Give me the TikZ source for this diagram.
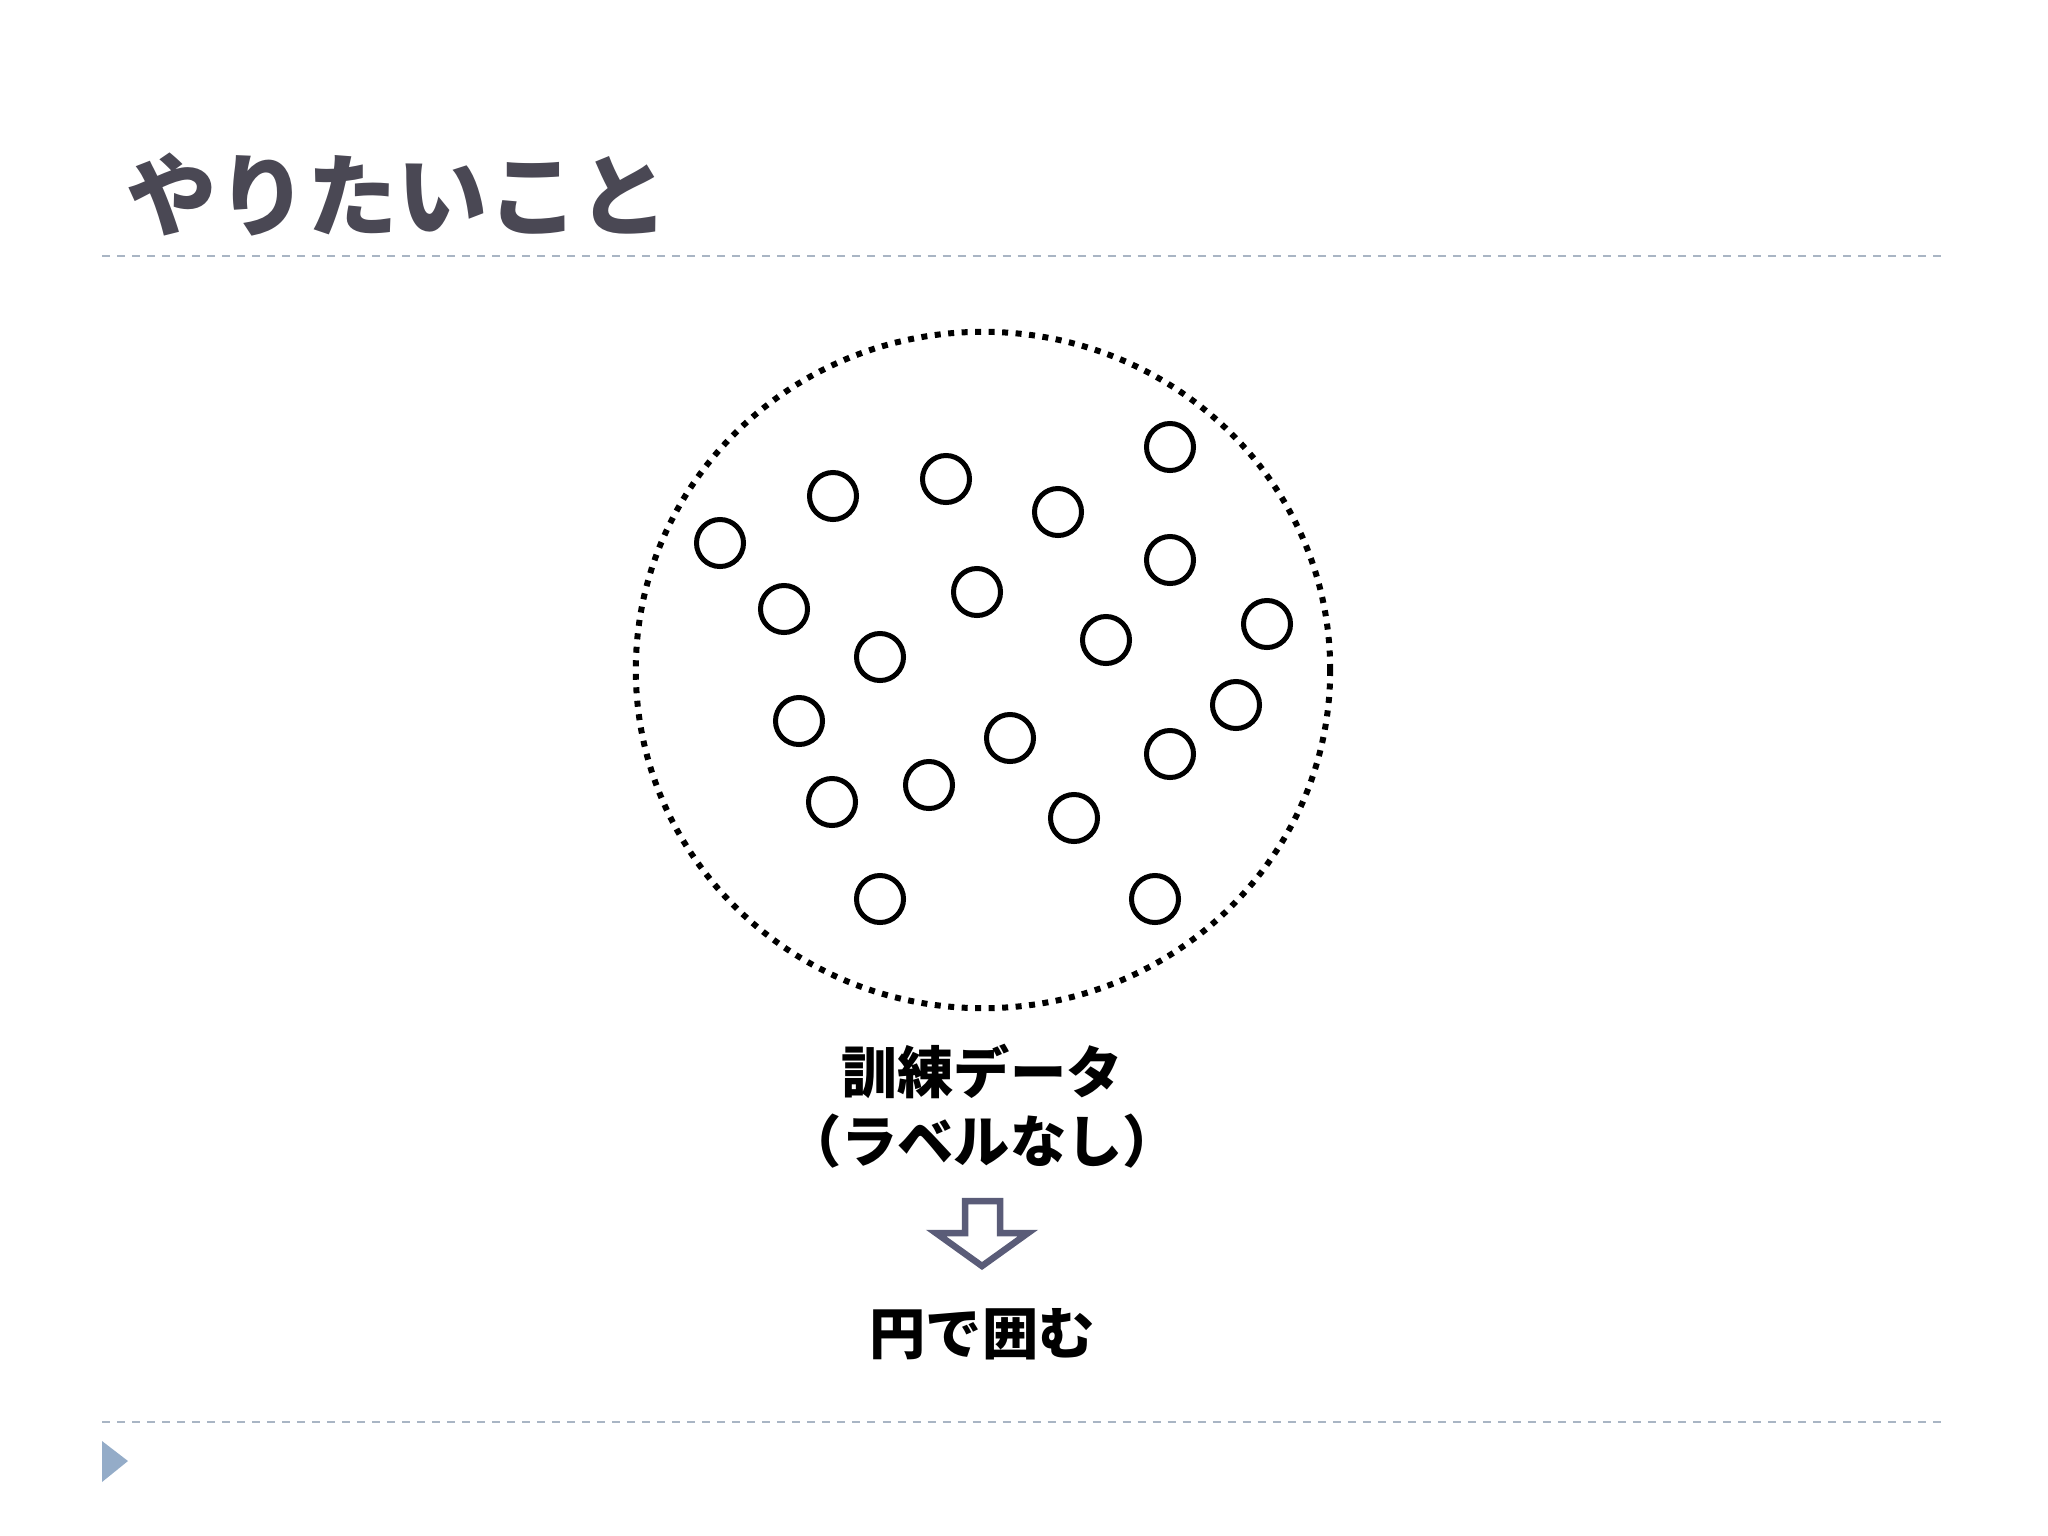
\documentclass[tikz,border=0pt]{standalone}
\usepackage{fontspec}
\newfontfamily\jpfont{Noto Sans CJK JP}
\usetikzlibrary{shapes.geometric,positioning}
\definecolor{titlegray}{HTML}{4A4854}
\definecolor{ruleblue}{HTML}{A9B5C4}
\definecolor{markblue}{HTML}{94ACC8}
\definecolor{arrowslate}{HTML}{5A5C78}
\tikzset{
  datapt/.style    = {draw, circle, line width=0.05cm, minimum size=0.47cm, inner sep=0pt},
  datacloud/.style = {draw, ellipse, line width=0.06cm, dash pattern=on 0.06cm off 0.075cm,
                      minimum width=6.94cm, minimum height=6.76cm, inner sep=0pt},
  sepline/.style   = {draw=ruleblue, line width=0.02cm, dash pattern=on 0.08cm off 0.07cm},
  caption/.style   = {font=\jpfont\bfseries\fontsize{16}{19.5}\selectfont, align=center, inner sep=0pt}
}

\begin{document}
\begin{tikzpicture}[x=0.01cm, y=-0.01cm]
\useasboundingbox (0,0) rectangle (2048,1536);

% title and rules
\node[anchor=west, inner sep=0pt, text=titlegray,
      font=\jpfont\bfseries\fontsize{25.7}{30}\selectfont] (title) at (126,195) {やりたいこと};
\coordinate (tl) at (102,256);
\coordinate (tr) at (1946,256);
\coordinate (bl) at (102,1422);
\coordinate (br) at (1946,1422);
\draw[sepline] (tl) -- (tr);
\draw[sepline] (bl) -- (br);
\fill[markblue] (102,1441) -- (128,1461) -- (102,1482) -- cycle;

% the dotted region
\node[datacloud] (cloud) at (983,670) {};

% unlabelled data points
\node[datapt] (p1) at (720,543) {};
\node[datapt] (p2) at (833,496) {};
\node[datapt] (p3) at (946,479) {};
\node[datapt] (p4) at (1058,512) {};
\node[datapt] (p5) at (1170,447) {};
\node[datapt] (p6) at (1170,560) {};
\node[datapt] (p7) at (784,609) {};
\node[datapt] (p8) at (977,592) {};
\node[datapt] (p9) at (880,657) {};
\node[datapt] (p10) at (1106,640) {};
\node[datapt] (p11) at (1267,624) {};
\node[datapt] (p12) at (799,721) {};
\node[datapt] (p13) at (1236,705) {};
\node[datapt] (p14) at (1010,738) {};
\node[datapt] (p15) at (1170,754) {};
\node[datapt] (p16) at (832,802) {};
\node[datapt] (p17) at (929,785) {};
\node[datapt] (p18) at (1074,818) {};
\node[datapt] (p19) at (880,899) {};
\node[datapt] (p20) at (1155,899) {};

% captions
\node[caption] (train) at (982,1106) {訓練データ\\（ラベルなし）};
\node[caption] (goal) at (982,1334) {円で囲む};

% block arrow
\draw[arrowslate, line width=0.065cm, fill=white]
  (965,1201) -- (1000,1201) -- (1000,1233) -- (1028,1233) -- (982,1266)
  -- (936,1233) -- (965,1233) -- cycle;
\end{tikzpicture}
\end{document}
